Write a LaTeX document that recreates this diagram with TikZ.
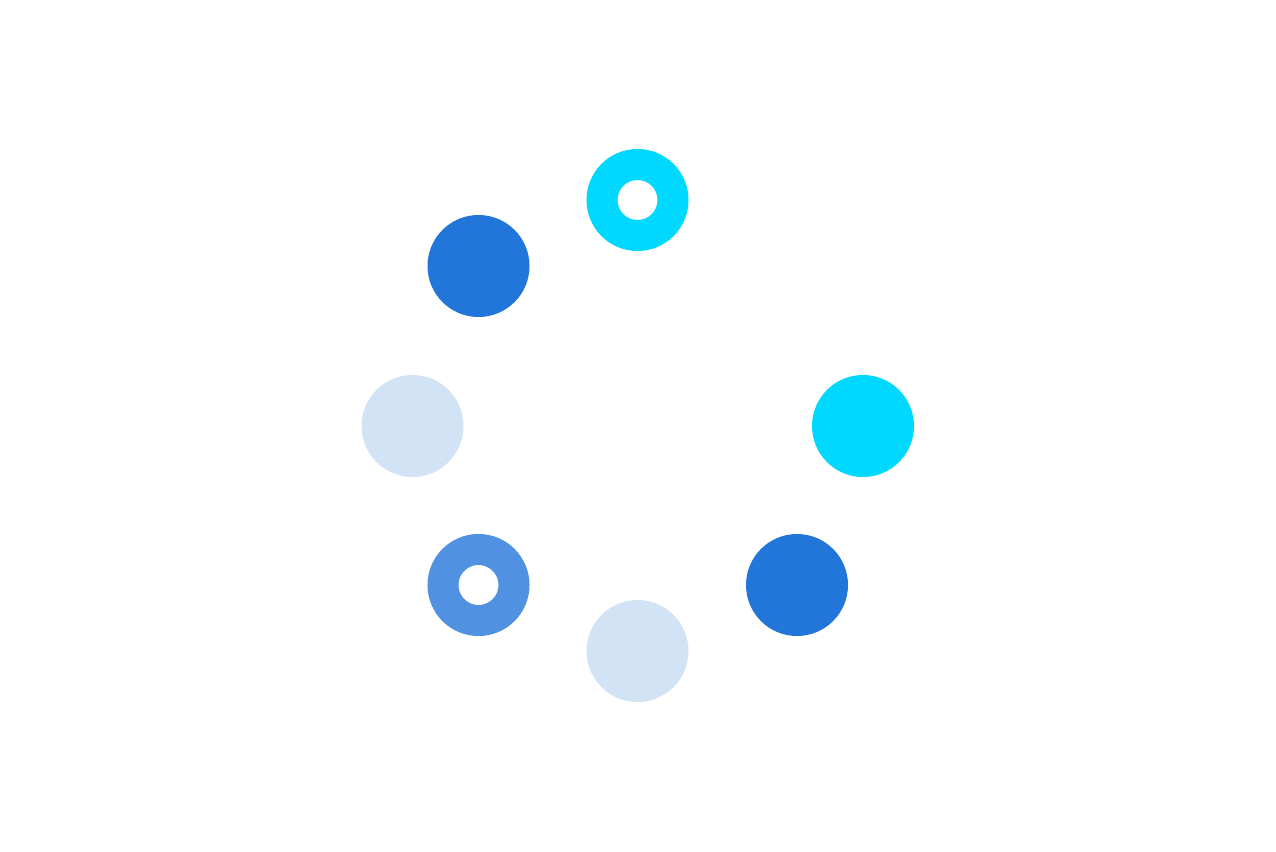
\documentclass[tikz,border=0pt]{standalone}
\definecolor{dblue}{HTML}{2276D9}
\definecolor{cyanc}{HTML}{00D8FF}
\definecolor{lblue}{HTML}{D3E3F6}
\definecolor{mblue}{HTML}{5091E2}
\begin{document}
\begin{tikzpicture}[x=1pt,y=-1pt,
  dot/.style={circle,minimum size=102pt,inner sep=0pt,draw=none,fill=#1},
  ring/.style={circle,minimum size=71pt,inner sep=0pt,draw=#1,line width=31pt}]
\useasboundingbox (0,0) rectangle (1276,851);
\fill[white] (0,0) rectangle (1276,851);
\node[ring=cyanc] (t) at (637.5,200) {};
\node[dot=dblue] (tl) at (478.5,266) {};
\node[dot=lblue] (l) at (412.5,426) {};
\node[ring=mblue] (bl) at (478.5,585) {};
\node[dot=lblue] (b) at (637.5,651) {};
\node[dot=dblue] (br) at (797,585) {};
\node[dot=cyanc] (r) at (863,426) {};
\end{tikzpicture}
\end{document}
